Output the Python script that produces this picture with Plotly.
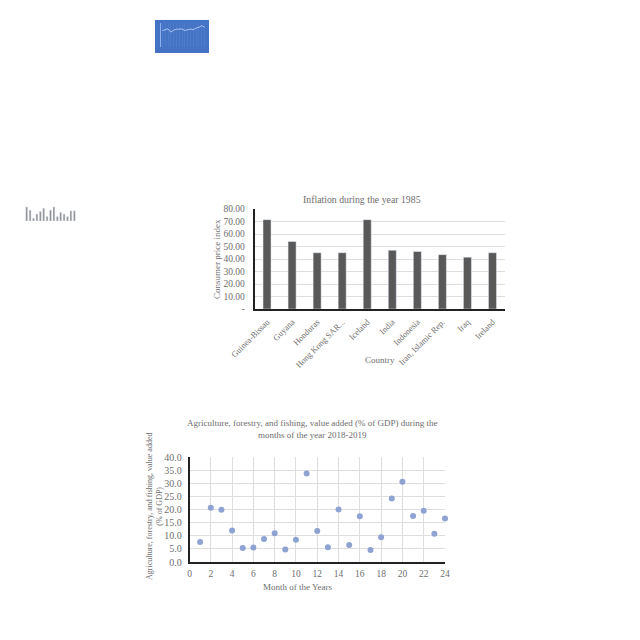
import plotly.graph_objects as go

# Inflation bar chart
countries = ["Guinea-Bissau", "Guyana", "Honduras", "Hong Kong SAR...", "Iceland", "India",
             "Indonesia", "Iran, Islamic Rep.", "Iraq", "Ireland"]
cpi = [71.5, 54, 45, 45, 71.5, 47, 46, 43.5, 41.5, 45]
cpi_ticks = [0, 10, 20, 30, 40, 50, 60, 70, 80]
cpi_labels = ["-", "10.00", "20.00", "30.00", "40.00", "50.00", "60.00", "70.00", "80.00"]

# Agriculture scatter
months = list(range(1, 25))
agri = [7.6, 20.7, 19.9, 12.0, 5.3, 5.5, 8.8, 11.0, 4.8, 8.5, 33.7, 11.8,
        5.6, 20.0, 6.5, 17.4, 4.6, 9.4, 24.2, 30.6, 17.5, 19.5, 10.8, 16.6]

# Thumbnails
thumb_line_x = list(range(1, 17))
thumb_line = [68, 72, 76, 62, 70, 74, 74, 75, 69, 71, 75, 72, 79, 82, 89, 82]
thumb_bar_x = list(range(1, 16))
thumb_bar = [44, 34, 9, 22, 30, 40, 14, 34, 44, 14, 27, 22, 14, 32, 32]


def fx(p):
    return (p - 8) / 640


def fy(p):
    return 1 - (p - 8) / 640


serif = "Liberation Serif"
grey = "#6e6e6e"
grid = "#dedede"

fig = go.Figure()

fig.add_trace(go.Bar(x=countries, y=cpi, marker_color="#595959", width=0.32, xaxis="x", yaxis="y"))
fig.add_trace(go.Scatter(x=months, y=agri, mode="markers", xaxis="x2", yaxis="y2", cliponaxis=False,
                         marker=dict(color="#8ea3d2", size=6)))
fig.add_trace(go.Scatter(x=thumb_line_x, y=thumb_line, mode="lines", xaxis="x3", yaxis="y3",
                         line=dict(color="#a9c6f5", width=1)))
fig.add_trace(go.Bar(x=thumb_bar_x, y=thumb_bar, marker_color="#8a8a8a", width=0.55, xaxis="x4", yaxis="y4"))


def note(text, x, y, size, angle=0):
    return dict(text=text, xref="paper", yref="paper", x=fx(x), y=fy(y), showarrow=False,
                xanchor="center", yanchor="middle", textangle=angle, font=dict(size=size, color=grey))


fig.update_layout(
    width=640, height=640, margin=dict(l=0, r=0, t=0, b=0), showlegend=False,
    paper_bgcolor="white", plot_bgcolor="white",
    font=dict(family=serif, color=grey, size=9),
    xaxis=dict(domain=[fx(254.5), fx(505)], anchor="y", showgrid=False, tickangle=-45, automargin=False,
               showline=True, linecolor="#222", linewidth=1.5, ticks="", tickfont=dict(size=8.5),
               ticklabelstandoff=3, categoryorder="array", categoryarray=countries),
    yaxis=dict(domain=[fy(309), fy(209)], anchor="x", range=[0, 80], tickvals=cpi_ticks, automargin=False,
               ticktext=cpi_labels, gridcolor=grid, showline=True, linecolor="#222", linewidth=1.5,
               zeroline=False, tickfont=dict(size=9.5), ticklabelstandoff=6),
    xaxis2=dict(domain=[fx(189.5), fx(445)], anchor="y2", range=[0, 24], dtick=2, gridcolor=grid,
                automargin=False, showline=True, linecolor="#222", linewidth=1.5, zeroline=False,
                tickfont=dict(size=9.5), ticklabelstandoff=2),
    yaxis2=dict(domain=[fy(562), fy(457)], anchor="x2", range=[0, 40], dtick=5, tickformat=".1f",
                automargin=False, gridcolor=grid, showline=True, linecolor="#222", linewidth=1.5,
                zeroline=False, tickfont=dict(size=10), ticklabelstandoff=4),
    xaxis3=dict(domain=[fx(161), fx(206)], anchor="y3", range=[0.5, 16.5], showticklabels=False, ticks="",
                automargin=False, gridcolor="#4f7bcb", dtick=1, zeroline=False, showline=False),
    yaxis3=dict(domain=[fy(47), fy(23)], anchor="x3", range=[0, 100], showticklabels=False, ticks="",
                automargin=False, showgrid=False, zeroline=False, showline=True, linecolor="#8fb0ea", linewidth=1),
    xaxis4=dict(domain=[fx(25), fx(76)], anchor="y4", range=[0.5, 15.5], visible=False, automargin=False),
    yaxis4=dict(domain=[fy(221), fy(205)], anchor="x4", range=[0, 50], visible=False, automargin=False),
    shapes=[dict(type="rect", xref="paper", yref="paper", x0=fx(155), x1=fx(209), y0=fy(53), y1=fy(20),
                 fillcolor="#4472c4", line_width=0, layer="below")],
    annotations=[
        note("Inflation during the year 1985", 362, 199, 9.8),
        note("Country", 380, 360, 9),
        note("Consumer price index", 217, 259, 9, -90),
        note("Agriculture, forestry, and fishing, value added (% of GDP) during the<br>months of the year 2018-2019",
             312, 429, 9),
        note("Month of the Years", 297, 587, 9),
        note("Agriculture, forestry, and fishing, value added<br>(% of GDP)", 154, 507, 8, -90),
    ],
)

fig.write_html("out.html")
